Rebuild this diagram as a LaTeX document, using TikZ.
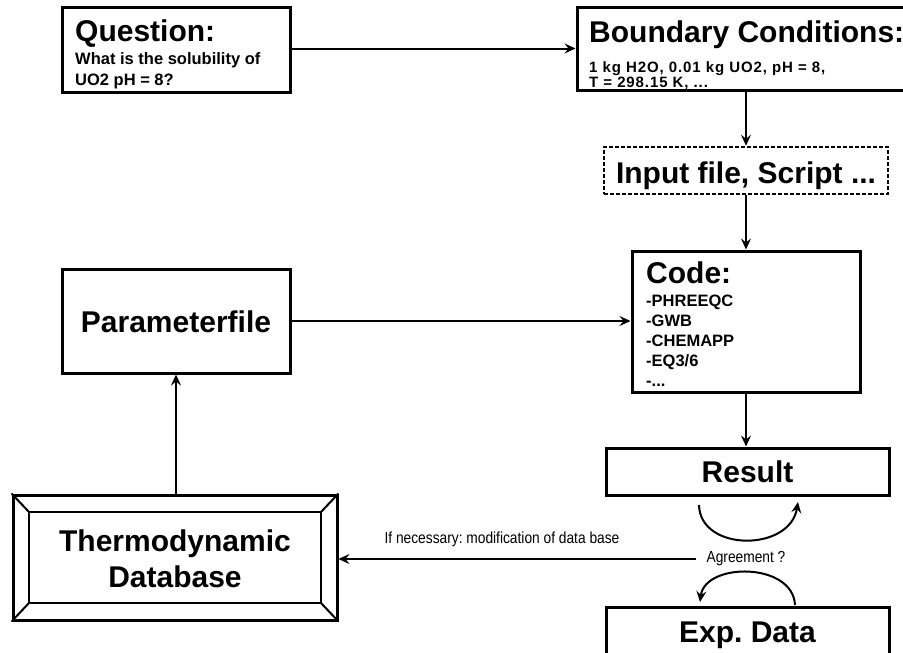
\documentclass[tikz,border=0pt]{standalone}
\usepackage{fontspec}
\setmainfont{Liberation Sans}
\newfontfamily\narrowfont[FakeStretch=0.86]{Liberation Sans}
\newfontfamily\bcfont[LetterSpace=6]{Liberation Sans}
\usetikzlibrary{arrows.meta}
\frenchspacing
\begin{document}
\begin{tikzpicture}[x=1pt,y=-1pt,
  box/.style={draw, line width=3pt, inner sep=0pt, fill=white},
  conn/.style={line width=2pt, -{Stealth[length=11pt,width=10pt,inset=4pt]}},
  title/.style={inner sep=0pt, font=\fontsize{30}{34}\selectfont\bfseries},
  sub/.style={inner sep=0pt, font=\fontsize{16.5}{20}\selectfont\bfseries},
  bcsub/.style={inner sep=0pt, font=\fontsize{15}{18}\bcfont\bfseries},
  small/.style={inner sep=0pt, font=\fontsize{16}{18}\selectfont\narrowfont}]
\useasboundingbox (0,0) rectangle (903,653);
\fill[white] (0,0) rectangle (903,653);
% boxes
\node[box, minimum width=228pt, minimum height=85pt] (q) at (176,49.5) {};
\node[box, minimum width=333pt, minimum height=83pt] (bc) at (743.5,48.5) {};
\node[box, dash pattern=on 4pt off 2pt, line width=2.5pt, minimum width=284pt, minimum height=47pt] (inp) at (746,170.5) {};
\node[box, minimum width=228pt, minimum height=141pt] (code) at (746,321.5) {};
\node[box, minimum width=228pt, minimum height=104pt] (par) at (176,321) {};
\node[box, minimum width=283pt, minimum height=47pt] (res) at (747.5,471.5) {};
\node[box, minimum width=283pt, minimum height=70pt] (exp) at (747.5,642) {};
\node[box, minimum width=324pt, minimum height=125pt] (db) at (175,557.5) {};
% bevel of database
\draw[line width=2pt] (29,512) rectangle (321,603);
\draw[line width=2pt] (db.north west) -- (29,512) (db.north east) -- (321,512)
  (db.south west) -- (29,603) (db.south east) -- (321,603);
% texts
\node[title, anchor=base west] (qt) at (75,41) {Question:};
\node[sub, anchor=base west] (qs1) at (75,64) {What is the solubility of};
\node[sub, anchor=base west] (qs2) at (75,85) {UO2 pH = 8?};
\node[title, anchor=base west] (bct) at (589,42) {Boundary Conditions:};
\node[bcsub, anchor=base west] (bcs1) at (589,72) {1 kg H2O, 0.01 kg UO2, pH = 8,};
\node[bcsub, anchor=base west] (bcs2) at (589,87) {T = 298.15 K, ...};
\node[title, anchor=base] (inpt) at (746,183) {Input file, Script ...};
\node[title, anchor=base west] (codet) at (646,283) {Code:};
\node[sub, anchor=base west] (c1) at (646,306) {-PHREEQC};
\node[sub, anchor=base west] (c2) at (646,326) {-GWB};
\node[sub, anchor=base west] (c3) at (646,346) {-CHEMAPP};
\node[sub, anchor=base west] (c4) at (646,366) {-EQ3/6};
\node[sub, anchor=base west] (c5) at (646,386) {-...};
\node[title, anchor=base] (part) at (176,332) {Parameterfile};
\node[title, anchor=base] (db1) at (175,551) {Thermodynamic};
\node[title, anchor=base] (db2) at (175,587) {Database};
\node[title, anchor=base] (rest) at (747.5,482) {Result};
\node[title, anchor=base] (expt) at (747.5,642) {Exp. Data};
\node[small] (agree) at (746,559) {Agreement ?};
\node[small] (mod) at (502,539) {If necessary: modification of data base};
% connectors
\draw[conn] (q.east |- bc.west) -- (bc.west);
\draw[conn] (inp.north |- bc.south) -- (inp.north);
\draw[conn] (inp.south) -- (inp.south |- code.north);
\draw[conn] (par.east) -- (par.east -| code.west);
\draw[conn] (code.south) -- (code.south |- res.north);
\draw[conn] (db.north -| par.south) -- (par.south);
\draw[conn] ([xshift=-10pt]agree.west) -- (agree.west -| db.east);
\coordinate (a1) at (699,505);
\coordinate (a2) at (798,502);
\coordinate (b1) at (795,605);
\coordinate (b2) at (700,602);
\draw[conn] (a1) .. controls (700,552) and (790,552) .. (a2);
\draw[conn] (b1) .. controls (793,562) and (705,562) .. (b2);
\end{tikzpicture}
\end{document}
